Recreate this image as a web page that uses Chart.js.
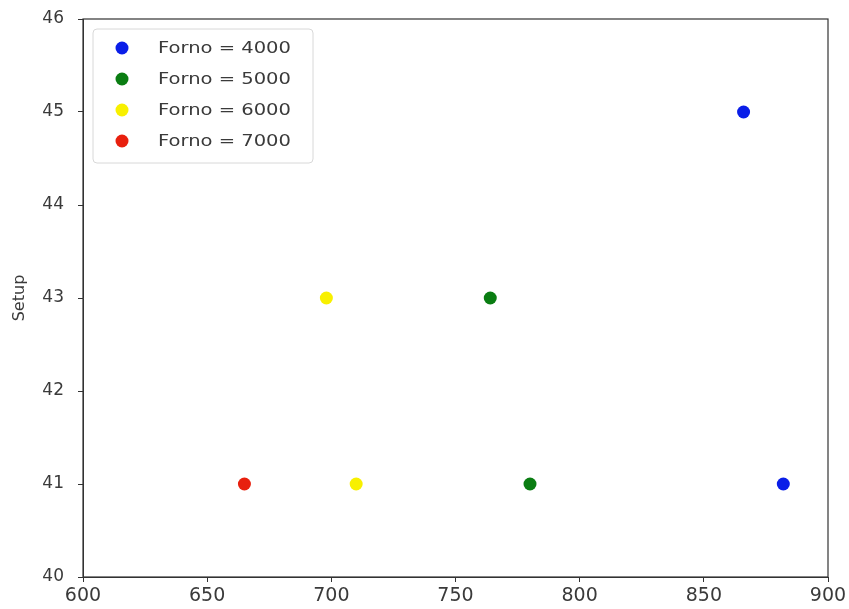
<!DOCTYPE html>
<html>
<head>
<meta charset="utf-8">
<script src="https://cdn.jsdelivr.net/npm/chart.js@4"></script>
<style>
	html, body { margin: 0; padding: 0; background: #fff; }
	#box { width: 849px; height: 609px; }
</style>
</head>
<body>
<div id="box"><canvas id="chart" width="849" height="609"></canvas></div>
<script>
'use strict'
// dati
const labels = ["Forno = 4000", "Forno = 5000", "Forno = 6000", "Forno = 7000"];
const colors = ["#0a1ee8", "#0a7d12", "#f8f000", "#e8200e"];
const forno4000 = [{x: 866, y: 45}, {x: 882, y: 41}];
const forno5000 = [{x: 764, y: 43}, {x: 780, y: 41}];
const forno6000 = [{x: 698, y: 43}, {x: 710, y: 41}];
const forno7000 = [{x: 665, y: 41}];
const xTicks = [600, 650, 700, 750, 800, 850, 900];
const yTicks = [40, 41, 42, 43, 44, 45, 46];

const series = [forno4000, forno5000, forno6000, forno7000];
const textColor = "#3a3a3a";
const fontFamily = "'DejaVu Sans', sans-serif";

// cornice intorno all'area del grafico + legenda in stile matplotlib
const framePlugin = {
	id: "frame",
	afterDraw(chart) {
		let {ctx, chartArea: a} = chart;
		ctx.save();
		ctx.strokeStyle = "#333";
		ctx.lineWidth = 1.2;
		ctx.strokeRect(a.left, a.top, a.right - a.left, a.bottom - a.top);

		// legenda
		let lx = a.left + 10, ly = a.top + 10, lw = 220, lh = 134;
		ctx.fillStyle = "rgba(255,255,255,0.85)";
		ctx.strokeStyle = "#d8d8d8";
		ctx.lineWidth = 1;
		ctx.beginPath();
		ctx.roundRect(lx, ly, lw, lh, 4);
		ctx.fill();
		ctx.stroke();
		ctx.font = "16px " + fontFamily;
		ctx.textBaseline = "middle";
		chart.data.datasets.forEach((ds, i) => {
			let cy = ly + 19 + i * 31;
			ctx.fillStyle = ds.backgroundColor;
			ctx.beginPath();
			ctx.arc(lx + 29, cy, 6.5, 0, Math.PI * 2);
			ctx.fill();
			ctx.fillStyle = textColor;
			ctx.save();
			ctx.translate(lx + 65, cy + 1);
			ctx.scale(1.22, 1);
			ctx.fillText(ds.label, 0, 0);
			ctx.restore();
		});
		ctx.restore();
	}
};

let ctx = document.getElementById("chart").getContext("2d");
let chart = new Chart(ctx, {
	type: "scatter",
	data: {
		datasets: series.map((data, i) => ({
			label: labels[i],
			data: data,
			backgroundColor: colors[i],
			borderColor: colors[i],
			borderWidth: 0,
			pointRadius: 6.5
		}))
	},
	options: {
		responsive: false,
		animation: false,
		layout: {padding: {top: 19, right: 21, left: 0, bottom: 0}},
		plugins: {legend: {display: false}, tooltip: {enabled: false}},
		scales: {
			x: {
				type: "linear", min: 600, max: 900,
				afterBuildTicks: axis => { axis.ticks = xTicks.map(v => ({value: v})); },
				afterFit: axis => { axis.height = 32; axis.paddingLeft = 0; axis.paddingRight = 0; },
				grid: {drawOnChartArea: false, drawTicks: true, tickLength: 5, color: "#333"},
				border: {display: true, color: "#333"},
				ticks: {color: textColor, font: {size: 19, family: fontFamily}, padding: 3, maxRotation: 0}
			},
			y: {
				type: "linear", min: 40, max: 46,
				afterBuildTicks: axis => { axis.ticks = yTicks.map(v => ({value: v})); },
				afterFit: axis => { axis.width = 83; axis.paddingTop = 0; axis.paddingBottom = 0; },
				grid: {drawOnChartArea: false, drawTicks: true, tickLength: 5, color: "#333"},
				border: {display: true, color: "#333"},
				title: {display: true, text: "Setup", color: textColor, font: {size: 16, family: fontFamily}, padding: {top: 10, bottom: 0}},
				ticks: {color: textColor, font: {size: 17, family: fontFamily}, padding: 14}
			}
		}
	},
	plugins: [framePlugin]
});
</script>
</body>
</html>
